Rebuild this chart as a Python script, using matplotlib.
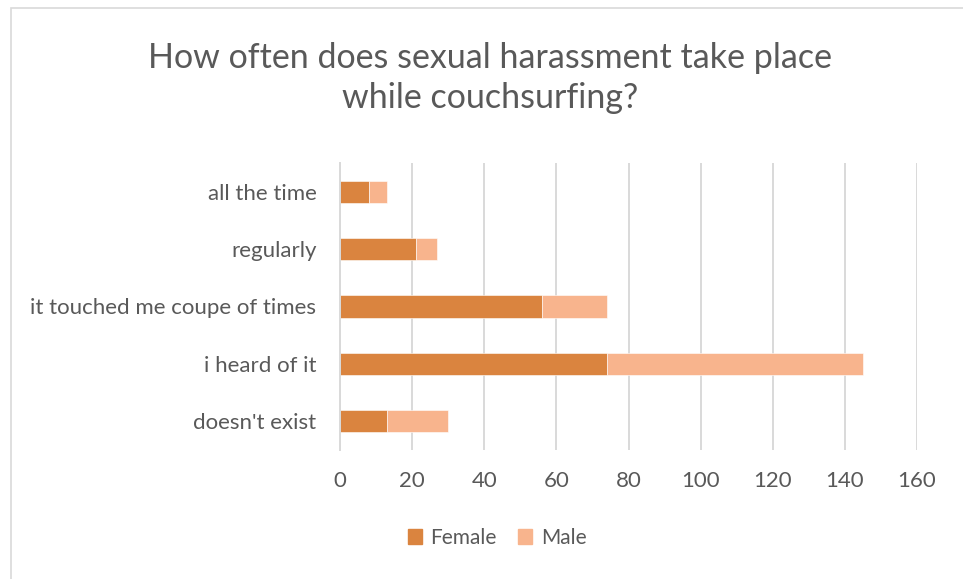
import matplotlib.pyplot as plt
from matplotlib.patches import Rectangle, Patch

# survey answers, bottom to top as drawn
answers = ["doesn't exist", "i heard of it", "it touched me coupe of times",
           "regularly", "all the time"]
female = [13, 74, 56, 21, 8]
male = [17, 71, 18, 6, 5]
xticks = [0, 20, 40, 60, 80, 100, 120, 140, 160]

female_color = '#DA843F'
male_color = '#F8B48D'
text_color = '#595959'
grid_color = '#D9D9D9'

plt.rcParams['font.family'] = ['Lato', 'DejaVu Sans']

fig = plt.figure(figsize=(9.63, 5.79), dpi=100)
# chart frame
fig.patches.append(Rectangle((11 / 963, -0.1), 1.2, 1 - 8 / 579 + 0.1,
                             transform=fig.transFigure, fill=False,
                             edgecolor='#D9D9D9', linewidth=1.2))

ax = fig.add_axes([340 / 963, 1 - 450 / 579, 577 / 963, 287 / 579])
y = range(len(answers))
ax.barh(y, female, height=0.39, color=female_color, label='Female',
        edgecolor='white', linewidth=0.4)
ax.barh(y, male, left=female, height=0.39, color=male_color, label='Male',
        edgecolor='white', linewidth=0.4)

ax.set_xlim(0, 160)
ax.set_ylim(-0.5, len(answers) - 0.5)
ax.set_xticks(xticks)
ax.set_yticks(list(y))
ax.set_yticklabels(answers)
ax.tick_params(axis='both', length=0, labelsize=16, colors=text_color)
ax.tick_params(axis='x', pad=15)
ax.tick_params(axis='y', pad=17)
ax.grid(axis='x', color=grid_color, linewidth=1.4)
ax.set_axisbelow(True)
for s in ['top', 'right', 'bottom']:
    ax.spines[s].set_visible(False)
ax.spines['left'].set_color(grid_color)
ax.spines['left'].set_linewidth(1.4)

fig.text(490 / 963, 1 - 78 / 579,
         'How often does sexual harassment take place\nwhile couchsurfing?',
         ha='center', va='center', fontsize=24.5, color=text_color,
         linespacing=1.3)

handles = [Patch(color=female_color), Patch(color=male_color)]
fig.legend(handles, ['Female', 'Male'], loc='center',
           bbox_to_anchor=(497 / 963, 1 - 538 / 579), ncol=2, frameon=False,
           fontsize=15, labelcolor=text_color, handlelength=0.7,
           handleheight=0.7, handletextpad=0.4, columnspacing=1.0)

plt.savefig('out.png', dpi=100)
